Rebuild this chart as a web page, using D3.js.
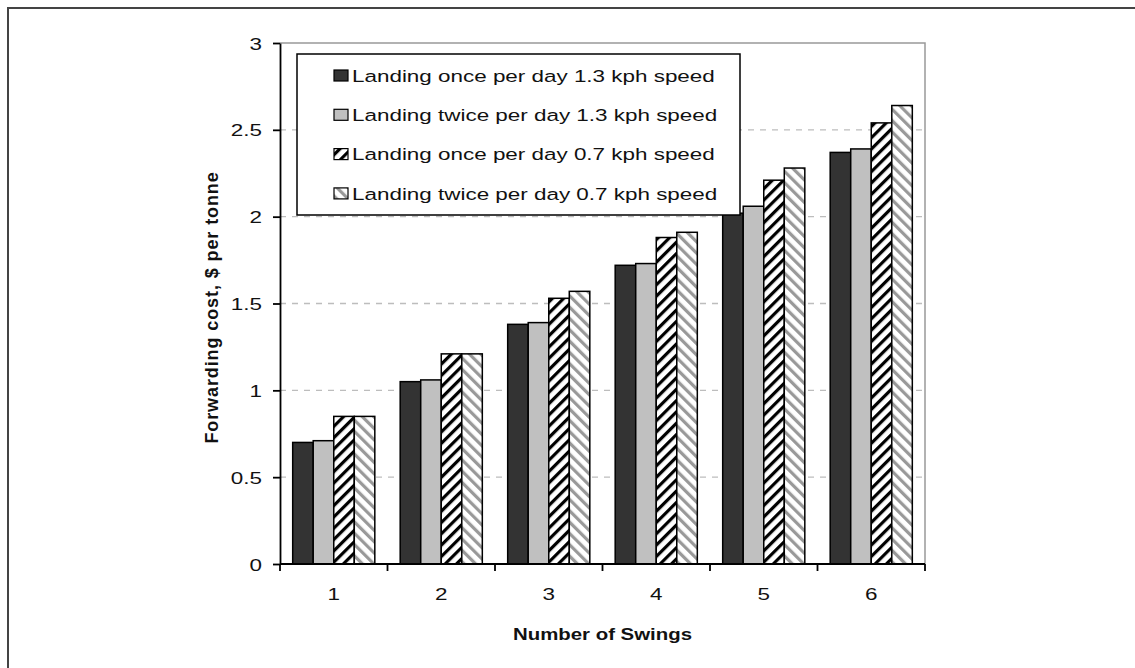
<!DOCTYPE html>
<html><head><meta charset="utf-8">
<script src="https://cdn.jsdelivr.net/npm/d3@7"></script>
<style>body{margin:0;background:#fff}svg{display:block;font-family:"Liberation Sans",Arial,sans-serif}</style>
</head><body>
<svg id="c" width="1135" height="668"></svg>
<script>
const categories = ["1","2","3","4","5","6"];
const seriesNames = [
  "Landing once per day 1.3 kph speed",
  "Landing twice per day 1.3 kph speed",
  "Landing once per day 0.7 kph speed",
  "Landing twice per day 0.7 kph speed"
];
const onceFast  = [0.70, 1.05, 1.38, 1.72, 2.02, 2.37];
const twiceFast = [0.71, 1.06, 1.39, 1.73, 2.06, 2.39];
const onceSlow  = [0.85, 1.21, 1.53, 1.88, 2.21, 2.54];
const twiceSlow = [0.85, 1.21, 1.57, 1.91, 2.28, 2.64];
const yTicks = [0, 0.5, 1, 1.5, 2, 2.5, 3];
const seriesValues = [onceFast, twiceFast, onceSlow, twiceSlow];

const SX = 1.32; // horizontal stretch of the text, as in the reference
const svg = d3.select("#c");
const defs = svg.append("defs");
function hatch(id, color, dir){
  const p = defs.append("pattern").attr("id", id).attr("patternUnits","userSpaceOnUse")
    .attr("width", 8).attr("height", 8)
    .attr("patternTransform", `rotate(${dir})`);
  p.append("rect").attr("width",8).attr("height",8).attr("fill","#fff");
  p.append("rect").attr("x",0).attr("y",0).attr("width",3.2).attr("height",8).attr("fill",color);
}
hatch("hb", "#000", 45);
hatch("hg", "#999", -45);
const fills = ["#333333", "#c0c0c0", "url(#hb)", "url(#hg)"];

// outer frame
svg.append("rect").attr("x",8).attr("y",8).attr("width",1140).attr("height",680)
  .attr("fill","none").attr("stroke","#444").attr("stroke-width",2);

const L = 280, R = 925, T = 43, B = 564;
const x = d3.scaleBand().domain(categories).range([L, R]).paddingInner(0.236).paddingOuter(0.118);
const xs = d3.scaleBand().domain(d3.range(4)).range([0, x.bandwidth()]);
const y = d3.scaleLinear().domain([0, 3]).range([B, T]);

// gridlines
svg.append("g").selectAll("line").data(yTicks.filter(d => d > 0 && d < 3)).join("line")
  .attr("x1", L).attr("x2", R).attr("y1", d => y(d)).attr("y2", d => y(d))
  .attr("stroke", "#bdbdbd").attr("stroke-width", 1.3).attr("stroke-dasharray", "6,6");
// plot border top/right
svg.append("path").attr("d", `M${L},${T}H${R}V${B}`).attr("fill","none").attr("stroke","#999").attr("stroke-width",1.5);

// bars
const g = svg.append("g");
categories.forEach((c, i) => {
  seriesValues.forEach((vals, s) => {
    g.append("rect")
      .attr("x", x(c) + xs(s)).attr("width", xs.bandwidth())
      .attr("y", y(vals[i])).attr("height", y(0) - y(vals[i]))
      .attr("fill", fills[s]).attr("stroke", "#000").attr("stroke-width", 1.5);
  });
});

// axes
const ya = svg.append("g").attr("transform", `translate(${L},0)`)
  .call(d3.axisLeft(y).tickValues(yTicks).tickFormat(d3.format("")).tickSize(7).tickSizeOuter(0));
const xa = svg.append("g").attr("transform", `translate(0,${B})`)
  .call(d3.axisBottom(x).tickSize(0).tickPadding(20));
// x ticks at band boundaries
const bounds = categories.map(c => x(c) - x.step()*x.paddingInner()/2).concat([R]);
svg.append("g").selectAll("line").data(bounds).join("line")
  .attr("x1", d => d).attr("x2", d => d).attr("y1", B).attr("y2", B + 7)
  .attr("stroke", "#000").attr("stroke-width", 1.8);
[ya, xa].forEach(a => {
  a.selectAll("path.domain").attr("stroke", "#000").attr("stroke-width", 1.8);
  a.selectAll("line").attr("stroke", "#000").attr("stroke-width", 1.8);
  a.selectAll("text").attr("font-size", 17).attr("fill", "#111")
    .attr("font-family", '"Liberation Sans",Arial,sans-serif');
});
xa.select("path.domain").attr("d", `M${L},0H${R}`);
ya.selectAll("text").attr("x", -18 / SX).attr("dy", "0.36em").attr("transform", `scale(${SX},1)`);
xa.selectAll("text").attr("x", 0).attr("y", 30).attr("dy", "0.36em").attr("transform", `scale(${SX},1)`);

// axis titles
svg.append("text").attr("transform", `translate(${(L + R) / 2},640) scale(1.2,1)`)
  .attr("text-anchor", "middle")
  .attr("font-size", 17).attr("font-weight", "bold").attr("fill", "#111").text("Number of Swings");
svg.append("text").attr("transform", `translate(218,${(T + B) / 2 + 4}) rotate(-90)`)
  .attr("text-anchor", "middle").attr("font-size", 18).attr("font-weight", "bold")
  .attr("letter-spacing", 0.9).attr("fill", "#111")
  .text("Forwarding cost, $ per tonne");

// legend
const lg = svg.append("g");
lg.append("rect").attr("x", 297).attr("y", 54).attr("width", 443).attr("height", 161)
  .attr("fill", "#fff").attr("stroke", "#000").attr("stroke-width", 1.5);
seriesNames.forEach((n, i) => {
  const yy = 75.5 + i * 39.3;
  lg.append("rect").attr("x", 334).attr("y", yy - 5.5).attr("width", 14).attr("height", 11)
    .attr("fill", fills[i]).attr("stroke", "#000").attr("stroke-width", 1.2);
  lg.append("text").attr("transform", `translate(352,${yy}) scale(${SX},1)`)
    .attr("dy", "0.36em").attr("font-size", 17).attr("fill", "#111").text(n);
});
</script>
</body></html>
